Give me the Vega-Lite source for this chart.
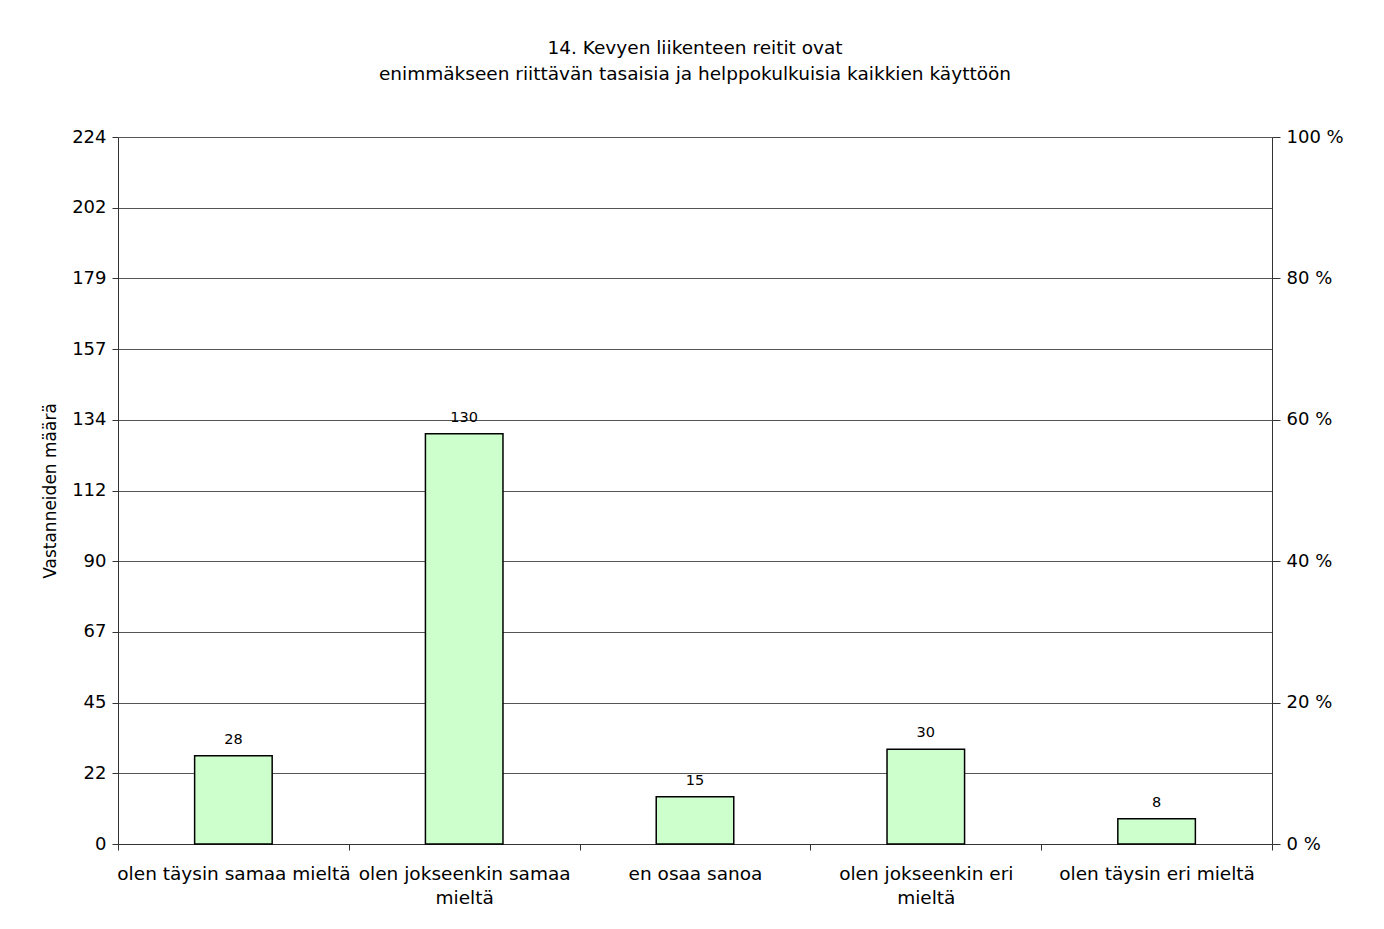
{
  "$schema": "https://vega.github.io/schema/vega-lite/v6.json",
  "width": 1154,
  "height": 707,
  "autosize": "none",
  "padding": {"left": 118, "top": 137, "right": 112, "bottom": 85},
  "background": "white",
  "config": {
    "font": "DejaVu Sans",
    "view": {"stroke": null},
    "axis": {"labelFont": "DejaVu Sans", "titleFont": "DejaVu Sans", "labelColor": "black", "titleColor": "black", "domainColor": "#333", "tickColor": "#333"}
  },
  "title": {
    "text": ["14. Kevyen liikenteen reitit ovat", "enimmäkseen riittävän tasaisia ja helppokulkuisia kaikkien käyttöön"],
    "fontSize": 18.5,
    "fontWeight": "normal",
    "lineHeight": 26,
    "offset": 45,
    "anchor": "middle",
    "color": "black"
  },
  "data": {
    "values": [
      {"vastaus": "olen täysin samaa mieltä", "maara": 28},
      {"vastaus": "olen jokseenkin samaa mieltä", "maara": 130},
      {"vastaus": "en osaa sanoa", "maara": 15},
      {"vastaus": "olen jokseenkin eri mieltä", "maara": 30},
      {"vastaus": "olen täysin eri mieltä", "maara": 8}
    ]
  },
  "encoding": {
    "x": {
      "field": "vastaus",
      "type": "nominal",
      "sort": null,
      "scale": {"paddingInner": 0, "paddingOuter": 0},
      "axis": {
        "title": null,
        "labelAngle": 0,
        "labelFontSize": 18.5,
        "labelPadding": 14,
        "labelLimit": 300,
        "tickBand": "extent",
        "tickSize": 6,
        "labelExpr": "datum.label == 'olen jokseenkin samaa mieltä' ? ['olen jokseenkin samaa', 'mieltä'] : datum.label == 'olen jokseenkin eri mieltä' ? ['olen jokseenkin eri', 'mieltä'] : datum.label",
        "labelLineHeight": 24
      }
    }
  },
  "layer": [
    {
      "mark": {"type": "bar", "width": {"band": 0.336}, "color": "#CCFFCC", "stroke": "black", "strokeWidth": 1.5},
      "encoding": {
        "y": {
          "field": "maara",
          "type": "quantitative",
          "scale": {"domain": [0, 224], "nice": false},
          "axis": {
            "title": "Vastanneiden määrä",
            "titleFontSize": 17,
            "titleFontWeight": "normal",
            "titlePadding": 12,
            "values": [0, 22.4, 44.8, 67.2, 89.6, 112, 134.4, 156.8, 179.2, 201.6, 224],
            "format": ".0f",
            "labelFontSize": 18,
            "labelPadding": 6,
            "tickSize": 6,
            "grid": true,
            "gridColor": "#555",
            "gridWidth": 1
          }
        }
      }
    },
    {
      "mark": {"type": "text", "dy": -16, "fontSize": 14.5, "color": "black"},
      "encoding": {
        "y": {"field": "maara", "type": "quantitative", "scale": {"domain": [0, 224], "nice": false}, "axis": null},
        "text": {"field": "maara", "type": "quantitative"}
      }
    },
    {
      "mark": {"type": "bar", "opacity": 0},
      "encoding": {
        "y": {
          "field": "maara",
          "type": "quantitative",
          "scale": {"domain": [0, 224], "nice": false},
          "axis": {
            "orient": "right",
            "title": null,
            "values": [0, 44.8, 89.6, 134.4, 179.2, 224],
            "labelExpr": "format(datum.value / 2.24, '.0f') + ' %'",
            "labelFontSize": 18,
            "labelPadding": 6,
            "tickSize": 8,
            "grid": false
          }
        }
      }
    }
  ],
  "resolve": {"scale": {"y": "independent"}}
}
